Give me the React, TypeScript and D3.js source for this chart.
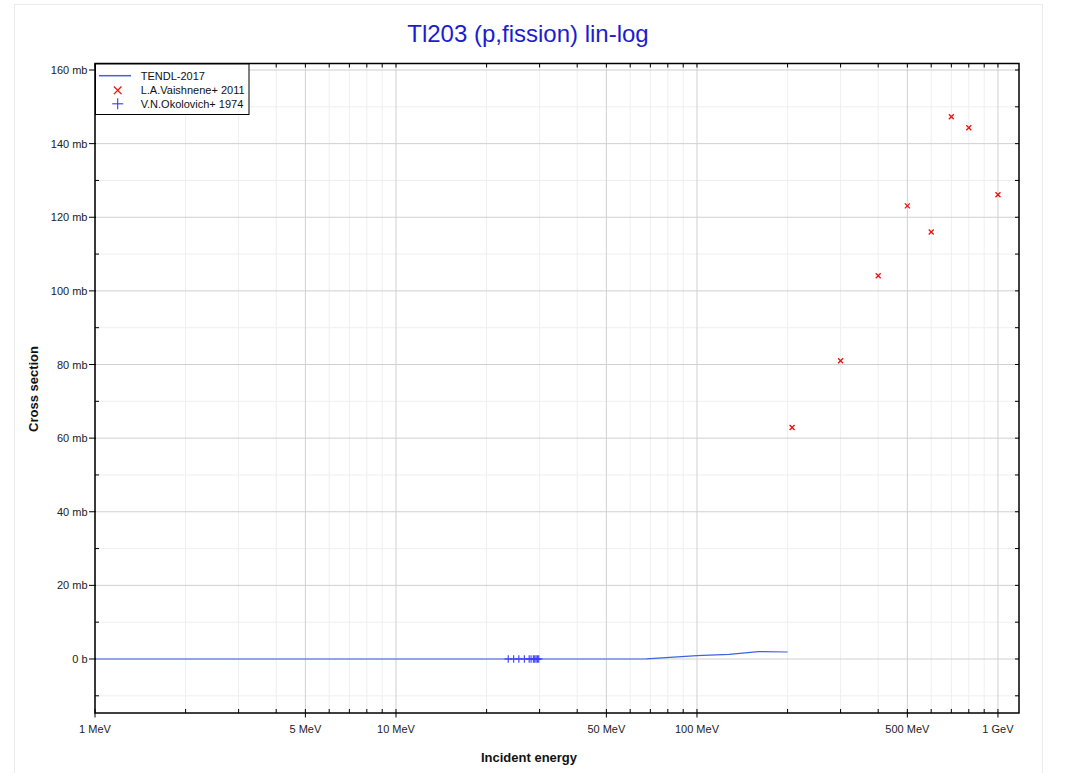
import React from "react";
import * as d3 from "d3";

const tendlE = [1, 10, 30, 60, 68, 100, 128, 160, 200];
const tendlXS = [0, 0, 0, 0, 0.02, 0.9, 1.27, 2.0, 1.9];

const vaishE = [207, 300, 400, 500, 600, 700, 800, 1000];
const vaishXS = [62.9, 81.0, 104.1, 123.1, 116.0, 147.3, 144.3, 126.1];

const okolE = [23.6, 24.6, 25.6, 26.7, 27.7, 28.1, 28.6, 28.9, 29.2, 29.5, 29.8];
const okolXS = [0.001, 0.001, 0.001, 0.001, 0.001, 0.001, 0.001, 0.001, 0.001, 0.001, 0.001];

const xMajorTicks = [1, 5, 10, 50, 100, 500, 1000];
const xMajorLabels = ["1 MeV", "5 MeV", "10 MeV", "50 MeV", "100 MeV", "500 MeV", "1 GeV"];
const xMinorTicks = [2, 3, 4, 6, 7, 8, 9, 20, 30, 40, 60, 70, 80, 90, 200, 300, 400, 600, 700, 800, 900];
const yMajorTicks = [0, 20, 40, 60, 80, 100, 120, 140, 160];
const yMajorLabels = ["0 b", "20 mb", "40 mb", "60 mb", "80 mb", "100 mb", "120 mb", "140 mb", "160 mb"];
const yMinorTicks = [-10, 10, 30, 50, 70, 90, 110, 130, 150];

const legendNames = ["TENDL-2017", "L.A.Vaishnene+ 2011", "V.N.Okolovich+ 1974"];

const L = 95, R = 1019, T = 63.5, B = 713;
const FONT = "'Liberation Sans', Arial, sans-serif";
const LINE_C = "#3b64e0";
const RED = "#ee1111";
const PLUS_C = "#3a3aff";

export default function App() {
  const x = d3.scaleLog().domain([1, 1174.6]).range([L, R]);
  const y = d3.scaleLinear().domain([-14.67, 161.77]).range([B, T]);
  const line = d3.line<number>().x((d, i) => x(tendlE[i])).y((d) => y(d));

  const cross = (cx: number, cy: number, s: number, key: string) => (
    <g key={key} stroke={RED} strokeWidth={1.3}>
      <line x1={cx - s} y1={cy - s} x2={cx + s} y2={cy + s} />
      <line x1={cx - s} y1={cy + s} x2={cx + s} y2={cy - s} />
    </g>
  );
  const plus = (cx: number, cy: number, s: number, key: string) => (
    <g key={key} stroke={PLUS_C} strokeWidth={1.1}>
      <line x1={cx} y1={cy - s} x2={cx} y2={cy + s} />
      <line x1={cx - s} y1={cy} x2={cx + s} y2={cy} />
    </g>
  );

  return (
    <svg width={1067} height={773} style={{ position: "absolute", left: 0, top: 0 }} fontFamily={FONT}>
      <rect x={14.5} y={4.5} width={1028} height={800} fill="#fff" stroke="#ebebeb" />
      <text x={528} y={41.7} textAnchor="middle" fontSize={24} fill="#1c1cd0">Tl203 (p,fission) lin-log</text>

      {/* grid */}
      {xMinorTicks.map((t) => (
        <line key={"xm" + t} x1={x(t)} x2={x(t)} y1={T} y2={B} stroke="#efefef" />
      ))}
      {yMinorTicks.map((t) => (
        <line key={"ym" + t} x1={L} x2={R} y1={y(t)} y2={y(t)} stroke="#efefef" />
      ))}
      {xMajorTicks.map((t) => (
        <line key={"xM" + t} x1={x(t)} x2={x(t)} y1={T} y2={B} stroke="#d0d0d0" />
      ))}
      {yMajorTicks.map((t) => (
        <line key={"yM" + t} x1={L} x2={R} y1={y(t)} y2={y(t)} stroke="#d0d0d0" />
      ))}

      {/* data */}
      <path d={line(tendlXS) || ""} fill="none" stroke={LINE_C} strokeWidth={1.2} />
      {okolE.map((e, i) => plus(x(e), y(okolXS[i]), 3.8, "p" + i))}
      {vaishE.map((e, i) => cross(x(e), y(vaishXS[i]), 2.5, "c" + i))}

      {/* frame */}
      <rect x={L} y={T} width={R - L} height={B - T} fill="none" stroke="#000" strokeWidth={1.5} />

      {/* x ticks */}
      {xMajorTicks.map((t, i) => (
        <g key={"xt" + t}>
          <line x1={x(t)} x2={x(t)} y1={B - 4} y2={B + 4.5} stroke="#000" />
          <line x1={x(t)} x2={x(t)} y1={T} y2={T + 4} stroke="#000" />
          <text x={x(t)} y={733} textAnchor="middle" fontSize={11} fill="#222">{xMajorLabels[i]}</text>
        </g>
      ))}
      {xMinorTicks.map((t) => (
        <g key={"xmt" + t}>
          <line x1={x(t)} x2={x(t)} y1={B - 4} y2={B} stroke="#000" />
          <line x1={x(t)} x2={x(t)} y1={T} y2={T + 4} stroke="#000" />
        </g>
      ))}
      {/* y ticks */}
      {yMajorTicks.map((t, i) => (
        <g key={"yt" + t}>
          <line x1={L - 6} x2={L + 1} y1={y(t)} y2={y(t)} stroke="#000" />
          <line x1={R - 4} x2={R} y1={y(t)} y2={y(t)} stroke="#000" />
          <text x={87.5} y={y(t) + 4} textAnchor="end" fontSize={11} fill="#222">{yMajorLabels[i]}</text>
        </g>
      ))}
      {yMinorTicks.map((t) => (
        <g key={"ymt" + t}>
          <line x1={L} x2={L + 4} y1={y(t)} y2={y(t)} stroke="#000" />
          <line x1={R - 4} x2={R} y1={y(t)} y2={y(t)} stroke="#000" />
        </g>
      ))}

      <text x={529} y={762} textAnchor="middle" fontSize={13} fontWeight="bold" fill="#111">Incident energy</text>
      <text transform="translate(38,389) rotate(-90)" textAnchor="middle" fontSize={13} fontWeight="bold" fill="#111">Cross section</text>

      {/* legend */}
      <rect x={95.5} y={64} width={153.5} height={50.5} fill="#fff" stroke="#000" />
      <line x1={99} x2={131} y1={75.7} y2={75.7} stroke={LINE_C} strokeWidth={1.5} />
      {cross(117.7, 90.3, 3.8, "lc")}
      {plus(117.7, 103.8, 5.5, "lp")}
      {legendNames.map((n, i) => (
        <text key={n} x={140.7} y={79.6 + i * 14} fontSize={11} fill="#111">{n}</text>
      ))}
    </svg>
  );
}
